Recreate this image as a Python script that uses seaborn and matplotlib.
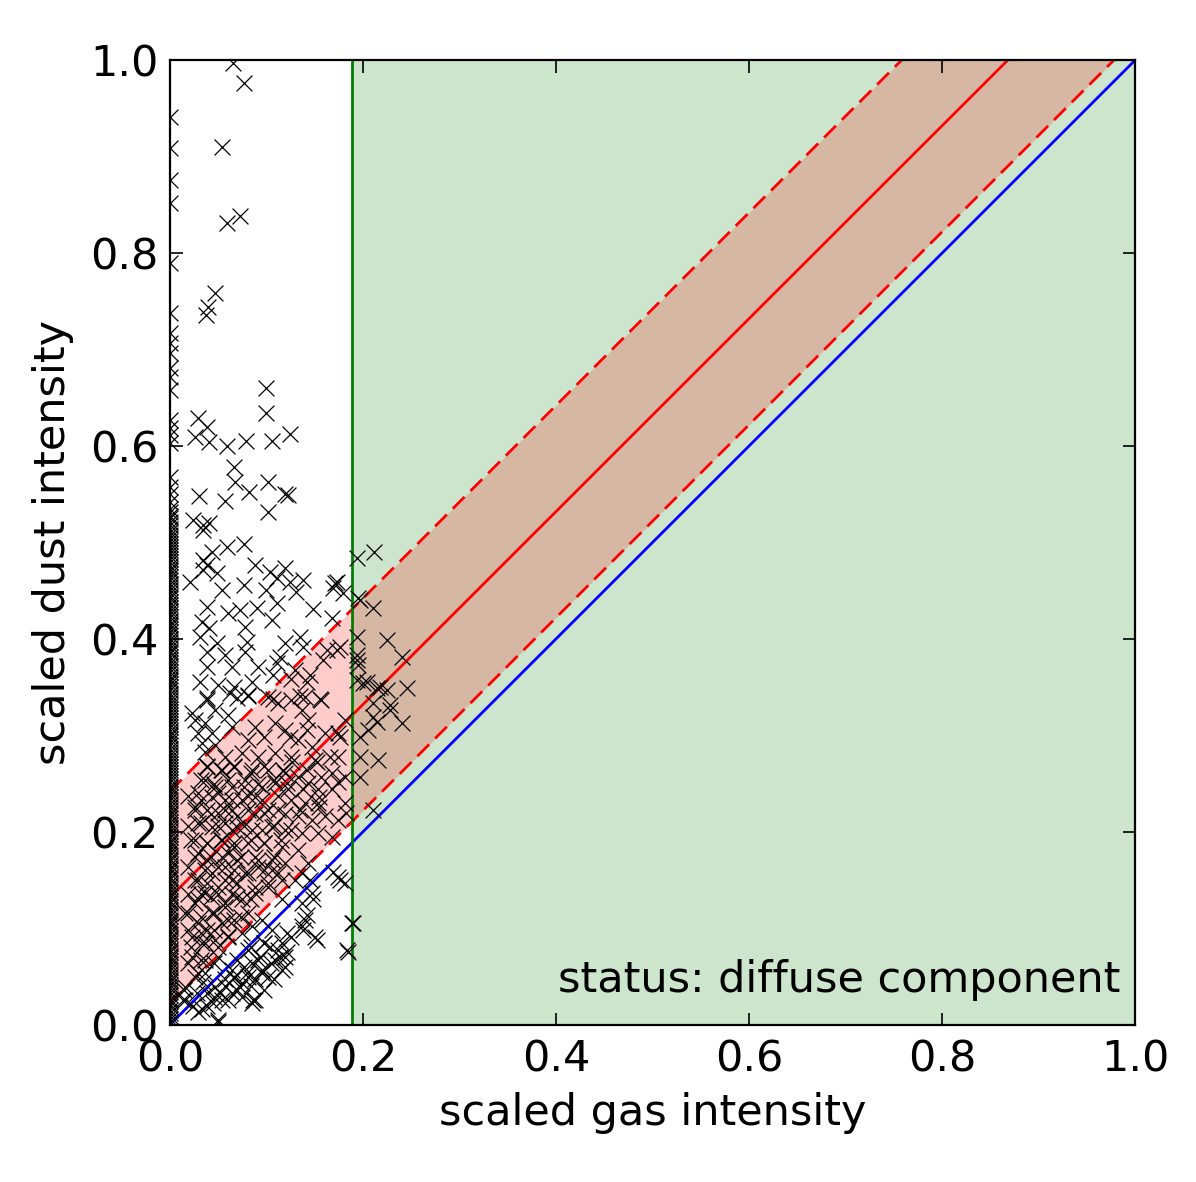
import matplotlib
matplotlib.use("Agg")
import matplotlib.pyplot as plt
import seaborn as sns
import numpy as np
import pandas as pd

# fit lines (dust = gas + offset), band half width, gas threshold
line_gas = [0.0, 1.0]
fit_offset = 0.132
band_width = 0.110
gas_cut = 0.189

# pixels with zero gas intensity
edge_dust = [0.003, 0.009, 0.015, 0.022, 0.027, 0.034, 0.041, 0.046, 0.053, 0.06, 0.066, 0.071,
             0.078, 0.085, 0.09, 0.097, 0.104, 0.109, 0.116, 0.122, 0.128, 0.135, 0.141, 0.147,
             0.153, 0.16, 0.166, 0.172, 0.179, 0.185, 0.191, 0.198, 0.204, 0.21, 0.217, 0.223,
             0.229, 0.236, 0.242, 0.248, 0.255, 0.261, 0.267, 0.274, 0.28, 0.286, 0.293, 0.299,
             0.305, 0.312, 0.318, 0.324, 0.331, 0.337, 0.343, 0.35, 0.356, 0.362, 0.369, 0.375,
             0.381, 0.388, 0.394, 0.4, 0.407, 0.413, 0.419, 0.426, 0.432, 0.438, 0.445, 0.451,
             0.457, 0.464, 0.47, 0.476, 0.483, 0.489, 0.495, 0.502, 0.508, 0.514, 0.521, 0.528,
             0.535, 0.542, 0.55, 0.558, 0.568, 0.603, 0.611, 0.619, 0.627, 0.658, 0.672, 0.681,
             0.696, 0.707, 0.717, 0.738, 0.79, 0.852, 0.876, 0.909, 0.941,
             0.006, 0.012, 0.019, 0.025, 0.031, 0.038, 0.044, 0.05, 0.057, 0.063, 0.069, 0.075,
             0.082, 0.088, 0.094, 0.101, 0.107, 0.113, 0.119, 0.126, 0.132, 0.138, 0.144, 0.151,
             0.157, 0.163, 0.17, 0.176, 0.182, 0.188, 0.195, 0.201, 0.207, 0.214, 0.22, 0.226,
             0.233, 0.239, 0.245, 0.252, 0.258, 0.264, 0.27, 0.277, 0.283, 0.29, 0.296, 0.302,
             0.309, 0.315, 0.321, 0.327, 0.334, 0.34, 0.347, 0.353, 0.359, 0.366, 0.372, 0.378,
             0.385, 0.391, 0.397, 0.404, 0.41, 0.416, 0.423, 0.429, 0.435, 0.442, 0.448, 0.454,
             0.461, 0.467, 0.473, 0.48, 0.486, 0.492, 0.499, 0.505, 0.511, 0.518, 0.525, 0.532]

gas = [0.065, 0.077, 0.054, 0.059, 0.073, 0.047, 0.040, 0.037,
       0.100, 0.100, 0.029, 0.039, 0.026, 0.041, 0.059, 0.079, 0.106, 0.125, 0.066, 0.068,
       0.082, 0.102, 0.122, 0.119, 0.030, 0.057, 0.102, 0.024, 0.034, 0.041, 0.034, 0.059,
       0.077, 0.044, 0.034, 0.038, 0.088, 0.021, 0.034, 0.049, 0.104, 0.119, 0.111, 0.124,
       0.138, 0.054, 0.077, 0.100, 0.131, 0.173, 0.169, 0.179, 0.194, 0.212, 0.195, 0.210,
       0.039, 0.060, 0.073, 0.090, 0.111, 0.148, 0.033, 0.041, 0.078, 0.106, 0.168, 0.031,
       0.049, 0.080, 0.119, 0.135, 0.138, 0.173, 0.194, 0.225, 0.241, 0.038, 0.057, 0.078,
       0.114, 0.159, 0.194, 0.038, 0.064, 0.091, 0.111, 0.130, 0.145, 0.031, 0.050, 0.067,
       0.085, 0.107, 0.126, 0.142, 0.194, 0.204, 0.215, 0.225, 0.246, 0.038, 0.062, 0.081,
       0.107, 0.135, 0.156, 0.210, 0.228,
       0.171, 0.197, 0.163, 0.176, 0.194, 0.195, 0.200, 0.218,
       0.228, 0.210, 0.241, 0.205, 0.215, 0.197, 0.176, 0.142, 0.124, 0.197, 0.216, 0.197,
       0.174, 0.155, 0.155, 0.210, 0.183, 0.135, 0.166, 0.152, 0.142, 0.127, 0.117, 0.121,
       0.138,
       0.038, 0.023, 0.047, 0.060, 0.036, 0.029, 0.044, 0.064, 0.033, 0.047, 0.036, 0.026,
       0.070, 0.081, 0.102, 0.112, 0.126, 0.140, 0.157, 0.137, 0.143, 0.181, 0.174, 0.161,
       0.119, 0.109, 0.088, 0.081, 0.098, 0.133, 0.147, 0.174, 0.168, 0.181, 0.157, 0.150,
       0.126, 0.109, 0.091, 0.075, 0.057, 0.039, 0.054, 0.067, 0.085, 0.102, 0.119, 0.133,
       0.143, 0.036, 0.047, 0.064, 0.078, 0.095, 0.109, 0.122, 0.153, 0.168, 0.181, 0.153,
       0.140, 0.126, 0.088, 0.075, 0.057, 0.044, 0.029, 0.026, 0.039, 0.050, 0.064, 0.081,
       0.098, 0.112, 0.133, 0.147, 0.161, 0.174, 0.029, 0.044, 0.057, 0.070, 0.085, 0.106,
       0.119, 0.137, 0.153, 0.168, 0.026, 0.039, 0.054, 0.067, 0.081, 0.098, 0.116, 0.133,
       0.026, 0.039, 0.054, 0.070, 0.088, 0.106,
       0.016, 0.026, 0.036, 0.029, 0.044, 0.057, 0.050, 0.064, 0.078, 0.091, 0.106, 0.119,
       0.102, 0.116, 0.137, 0.143, 0.088, 0.075, 0.057, 0.044, 0.029, 0.039, 0.054, 0.067,
       0.081, 0.023, 0.033, 0.047, 0.060, 0.023, 0.036, 0.050, 0.029, 0.016, 0.016,
       0.095, 0.085, 0.075, 0.106, 0.116, 0.098, 0.081, 0.070, 0.064, 0.057, 0.047, 0.039,
       0.085, 0.095, 0.109, 0.119, 0.116, 0.102, 0.088, 0.075, 0.064, 0.054, 0.075, 0.085,
       0.033, 0.050, 0.140, 0.137, 0.150, 0.147, 0.137, 0.174, 0.181, 0.189, 0.184, 0.126,
       0.130, 0.116,
       0.176, 0.190, 0.185, 0.152, 0.138, 0.142, 0.148, 0.169, 0.145, 0.121, 0.121, 0.114,
       0.104, 0.093, 0.086, 0.080, 0.073, 0.066, 0.052, 0.045, 0.034, 0.028, 0.024, 0.014]

dust = [0.997, 0.976, 0.910, 0.831, 0.839, 0.759, 0.744, 0.736,
        0.660, 0.634, 0.629, 0.620, 0.609, 0.604, 0.600, 0.605, 0.605, 0.613, 0.578, 0.563,
        0.552, 0.563, 0.549, 0.550, 0.548, 0.543, 0.532, 0.523, 0.518, 0.520, 0.513, 0.495,
        0.499, 0.490, 0.482, 0.477, 0.477, 0.459, 0.472, 0.468, 0.469, 0.474, 0.463, 0.459,
        0.461, 0.451, 0.456, 0.451, 0.449, 0.459, 0.453, 0.448, 0.484, 0.490, 0.442, 0.432,
        0.433, 0.427, 0.430, 0.432, 0.437, 0.431, 0.418, 0.411, 0.412, 0.420, 0.422, 0.402,
        0.396, 0.397, 0.396, 0.402, 0.392, 0.389, 0.402, 0.399, 0.381, 0.386, 0.383, 0.386,
        0.381, 0.378, 0.378, 0.371, 0.371, 0.371, 0.375, 0.368, 0.363, 0.355, 0.352, 0.350,
        0.355, 0.363, 0.359, 0.355, 0.357, 0.355, 0.349, 0.347, 0.349, 0.339, 0.344, 0.341,
        0.338, 0.341, 0.338, 0.334, 0.332,
        0.458, 0.440, 0.389, 0.392, 0.383, 0.373, 0.354, 0.350,
        0.326, 0.319, 0.313, 0.306, 0.314, 0.298, 0.298, 0.306, 0.298, 0.278, 0.275, 0.257,
        0.252, 0.236, 0.226, 0.223, 0.220, 0.223, 0.278, 0.272, 0.264, 0.272, 0.264, 0.251,
        0.244,
        0.337, 0.323, 0.326, 0.321, 0.313, 0.303, 0.303, 0.309, 0.292, 0.290, 0.283, 0.316,
        0.339, 0.342, 0.340, 0.334, 0.337, 0.340, 0.337, 0.326, 0.316, 0.316, 0.303, 0.303,
        0.306, 0.313, 0.309, 0.295, 0.298, 0.295, 0.288, 0.278, 0.261, 0.257, 0.257, 0.275,
        0.278, 0.282, 0.278, 0.282, 0.278, 0.267, 0.264, 0.267, 0.264, 0.264, 0.261, 0.257,
        0.251, 0.254, 0.247, 0.247, 0.254, 0.247, 0.251, 0.244, 0.244, 0.244, 0.230, 0.230,
        0.230, 0.233, 0.236, 0.233, 0.233, 0.236, 0.240, 0.226, 0.223, 0.220, 0.223, 0.223,
        0.220, 0.223, 0.216, 0.212, 0.216, 0.212, 0.209, 0.205, 0.209, 0.205, 0.202, 0.205,
        0.202, 0.199, 0.199, 0.195, 0.192, 0.189, 0.192, 0.184, 0.189, 0.189, 0.184, 0.181,
        0.174, 0.171, 0.174, 0.171, 0.174, 0.171,
        0.116, 0.126, 0.137, 0.150, 0.157, 0.164, 0.143, 0.150, 0.157, 0.164, 0.161, 0.168,
        0.143, 0.150, 0.157, 0.168, 0.137, 0.130, 0.122, 0.116, 0.106, 0.098, 0.106, 0.109,
        0.116, 0.091, 0.085, 0.088, 0.091, 0.070, 0.067, 0.070, 0.054, 0.039, 0.026,
        0.109, 0.102, 0.095, 0.098, 0.085, 0.085, 0.078, 0.067, 0.057, 0.047, 0.039, 0.033,
        0.064, 0.057, 0.067, 0.070, 0.057, 0.050, 0.047, 0.043, 0.033, 0.026, 0.029, 0.023,
        0.016, 0.005, 0.109, 0.102, 0.091, 0.137, 0.126, 0.153, 0.147, 0.106, 0.078, 0.091,
        0.150, 0.130,
        0.150, 0.106, 0.075, 0.088, 0.098, 0.114, 0.130, 0.158, 0.150, 0.095, 0.075, 0.070,
        0.081, 0.070, 0.026, 0.054, 0.039, 0.049, 0.033, 0.023, 0.044, 0.033, 0.019, 0.026]

# dense core near the origin, read from a closer look
core_gas = [0.039, 0.053, 0.067, 0.084, 0.098, 0.032, 0.046, 0.060, 0.077, 0.091, 0.108,
            0.019, 0.032, 0.050, 0.064, 0.081, 0.095, 0.112, 0.026, 0.043, 0.057, 0.070,
            0.088, 0.102, 0.119, 0.019, 0.032, 0.050, 0.064, 0.077, 0.095, 0.108, 0.126,
            0.022, 0.039, 0.053, 0.067, 0.084, 0.098, 0.115, 0.029, 0.043, 0.060, 0.074,
            0.091, 0.108, 0.019, 0.036, 0.050, 0.067, 0.081, 0.098, 0.112, 0.026, 0.039,
            0.057, 0.070, 0.088, 0.102, 0.019, 0.032, 0.050, 0.064,
            0.029, 0.043, 0.057, 0.070, 0.084, 0.019, 0.032, 0.046, 0.060, 0.074, 0.019,
            0.032, 0.046, 0.060, 0.022, 0.036, 0.050, 0.019, 0.032, 0.046, 0.026, 0.036,
            0.015, 0.084, 0.098, 0.112, 0.091, 0.105, 0.119, 0.077, 0.067, 0.081, 0.095,
            0.108, 0.057, 0.070, 0.084, 0.098, 0.046, 0.060, 0.039, 0.088, 0.050, 0.029]
core_dust = [0.268, 0.264, 0.268, 0.261, 0.268, 0.254, 0.250, 0.254, 0.247, 0.250, 0.254,
             0.237, 0.233, 0.240, 0.233, 0.237, 0.233, 0.237, 0.223, 0.219, 0.223, 0.216,
             0.219, 0.223, 0.219, 0.206, 0.209, 0.206, 0.202, 0.206, 0.202, 0.206, 0.202,
             0.192, 0.188, 0.192, 0.188, 0.192, 0.188, 0.192, 0.178, 0.174, 0.178, 0.174,
             0.171, 0.174, 0.164, 0.161, 0.164, 0.161, 0.157, 0.161, 0.157, 0.150, 0.147,
             0.150, 0.147, 0.143, 0.147, 0.136, 0.136, 0.136, 0.136,
             0.130, 0.133, 0.126, 0.133, 0.130, 0.116, 0.112, 0.116, 0.109, 0.112, 0.098,
             0.095, 0.098, 0.092, 0.081, 0.085, 0.081, 0.064, 0.067, 0.064, 0.050, 0.054,
             0.036, 0.081, 0.085, 0.078, 0.067, 0.064, 0.060, 0.060, 0.050, 0.050, 0.054,
             0.047, 0.040, 0.036, 0.040, 0.036, 0.029, 0.026, 0.019, 0.026, 0.003, 0.013]

df = pd.DataFrame({"gas": gas + core_gas + [0.0] * len(edge_dust),
                   "dust": dust + core_dust + edge_dust})

fig = plt.figure(figsize=(11.96, 11.82), dpi=100)
ax = fig.add_axes([0.142, 0.133, 0.807, 0.816])

ax.axvspan(gas_cut, 1.0, color="green", alpha=0.2, lw=0)
lx = np.array(line_gas)
ax.fill_between(lx, lx + fit_offset - band_width, lx + fit_offset + band_width,
                color="red", alpha=0.2, lw=0)
ax.plot(lx, lx, color="blue", lw=2)
ax.plot(lx, lx + fit_offset, color="red", lw=2)
ax.plot(lx, lx + fit_offset + band_width, color="red", lw=2, ls=(0, (6, 3)))
ax.plot(lx, lx + fit_offset - band_width, color="red", lw=2, ls=(0, (6, 3)))
ax.axvline(gas_cut, color="green", lw=2)

sns.scatterplot(data=df, x="gas", y="dust", marker="x", color="black", s=130,
                linewidth=0.9, ax=ax, zorder=3)

ax.set_xlim(0, 1)
ax.set_ylim(0, 1)
ax.set_xticks([0, 0.2, 0.4, 0.6, 0.8, 1.0])
ax.set_yticks([0, 0.2, 0.4, 0.6, 0.8, 1.0])
ax.xaxis.set_major_formatter(matplotlib.ticker.FormatStrFormatter("%.1f"))
ax.yaxis.set_major_formatter(matplotlib.ticker.FormatStrFormatter("%.1f"))
ax.tick_params(direction="in", length=9, width=1.2, labelsize=31,
               top=True, right=True, pad=10)
ax.tick_params(axis="y", pad=8)
for sp in ax.spines.values():
    sp.set_linewidth(1.6)
ax.set_xlabel("scaled gas intensity", fontsize=31, labelpad=8)
ax.set_ylabel("scaled dust intensity", fontsize=31, labelpad=12)
ax.text(0.985, 0.025, "status: diffuse component", transform=ax.transAxes,
        ha="right", va="bottom", fontsize=31)

fig.savefig("out.png", dpi=100)
